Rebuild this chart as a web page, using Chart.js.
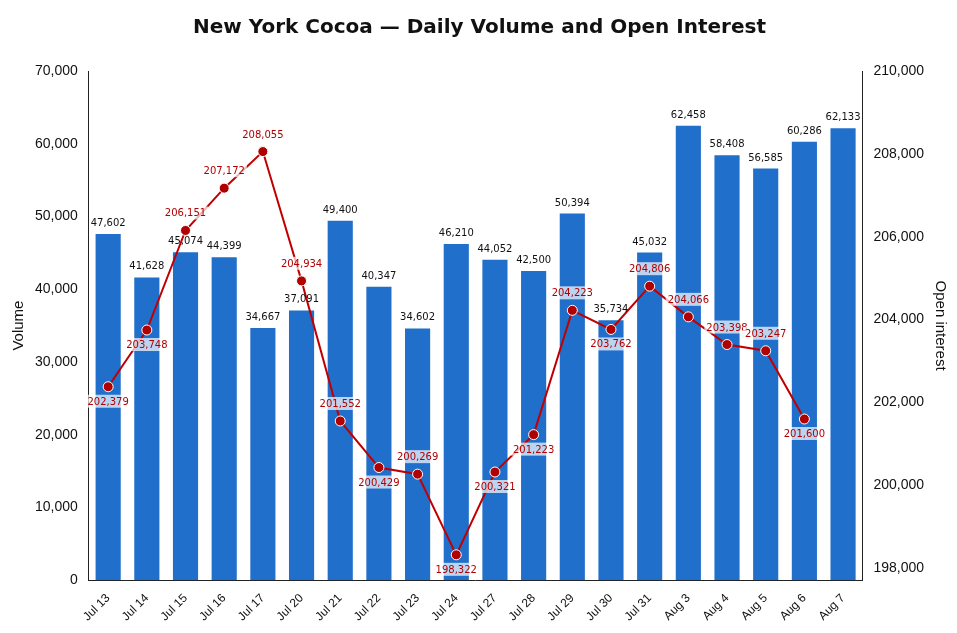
<!DOCTYPE html>
<html><head><meta charset="utf-8">
<script src="https://cdn.jsdelivr.net/npm/chart.js@4"></script>
<style>html,body{margin:0;background:#fff}#wrap{width:957px;height:633px}</style>
</head><body><div id="wrap"><canvas id="c"></canvas></div>
<script>
const dates = ["Jul 13","Jul 14","Jul 15","Jul 16","Jul 17","Jul 20","Jul 21","Jul 22","Jul 23","Jul 24","Jul 27","Jul 28","Jul 29","Jul 30","Jul 31","Aug 3","Aug 4","Aug 5","Aug 6","Aug 7"];
const volume = [47602,41628,45074,44399,34667,37091,49400,40347,34602,46210,44052,42500,50394,35734,45032,62458,58408,56585,60286,62133];
const openInterest = [202379,203748,206151,207172,208055,204934,201552,200429,200269,198322,200321,201223,204223,203762,204806,204066,203398,203247,201600,null];
// label placement for the line: 1 = above, -1 = below
const oiLabelSide = [-1,-1,1,1,1,1,1,-1,1,-1,-1,-1,1,-1,1,1,1,1,-1,1];

const labelPlugin = {
  id: 'labels',
  afterDatasetsDraw(chart) {
    const ctx = chart.ctx;
    ctx.save();
    ctx.font = '10px "DejaVu Sans"';
    ctx.textAlign = 'center';
    chart.getDatasetMeta(0).data.forEach((b, i) => {
      ctx.fillStyle = '#111';
      ctx.fillText(volume[i].toLocaleString('en-US'), b.x, b.y - 8);
    });
    chart.getDatasetMeta(1).data.forEach((p, i) => {
      if (openInterest[i] == null) return;
      const t = openInterest[i].toLocaleString('en-US');
      const y = p.y + (oiLabelSide[i] > 0 ? -14 : 18);
      const w = ctx.measureText(t).width + 4;
      ctx.fillStyle = 'rgba(255,255,255,0.7)';
      ctx.fillRect(p.x - w / 2, y - 10, w, 13);
      ctx.fillStyle = '#b00000';
      ctx.fillText(t, p.x, y);
    });
    ctx.restore();
  }
};

new Chart(document.getElementById('c'), {
  data: {
    labels: dates,
    datasets: [
      { type: 'bar', data: volume, yAxisID: 'y', backgroundColor: '#1f6fcb', barPercentage: 0.65, categoryPercentage: 1, order: 2 },
      { type: 'line', data: openInterest, yAxisID: 'y1', borderColor: '#c00000', borderWidth: 2, pointRadius: 5, pointBackgroundColor: '#b00000', pointBorderColor: '#fff', pointBorderWidth: 1, tension: 0, order: 1 }
    ]
  },
  options: {
    responsive: true, maintainAspectRatio: false, animation: false,
    layout: { padding: { left: 6, right: 4, top: 0, bottom: 6 } },
    plugins: {
      legend: { display: false }, tooltip: { enabled: false },
      title: { display: true, text: 'New York Cocoa — Daily Volume and Open Interest', font: { size: 20, weight: 'bold', family: '"DejaVu Sans"' }, color: '#111', padding: { top: 16, bottom: 31 } }
    },
    scales: {
      x: { offset: true, grid: { display: false, drawTicks: true }, border: { color: '#222' },
           ticks: { color: '#111', font: { size: 12 }, maxRotation: 45, minRotation: 45 } },
      y: { position: 'left', min: 0, max: 70000, grid: { display: false }, border: { color: '#222' },
           ticks: { stepSize: 10000, color: '#111', font: { size: 14 }, callback: v => v.toLocaleString('en-US') },
           title: { display: true, text: 'Volume', color: '#111', font: { size: 15 } } },
      y1: { position: 'right', min: 197710, max: 210000, grid: { display: false }, border: { color: '#222' },
            afterBuildTicks: s => { s.ticks = [198000,200000,202000,204000,206000,208000,210000].map(v => ({ value: v })); },
            ticks: { color: '#111', font: { size: 14 }, callback: v => v.toLocaleString('en-US') },
            title: { display: true, text: 'Open interest', color: '#111', font: { size: 15 } } }
    }
  },
  plugins: [labelPlugin]
});
</script></body></html>
